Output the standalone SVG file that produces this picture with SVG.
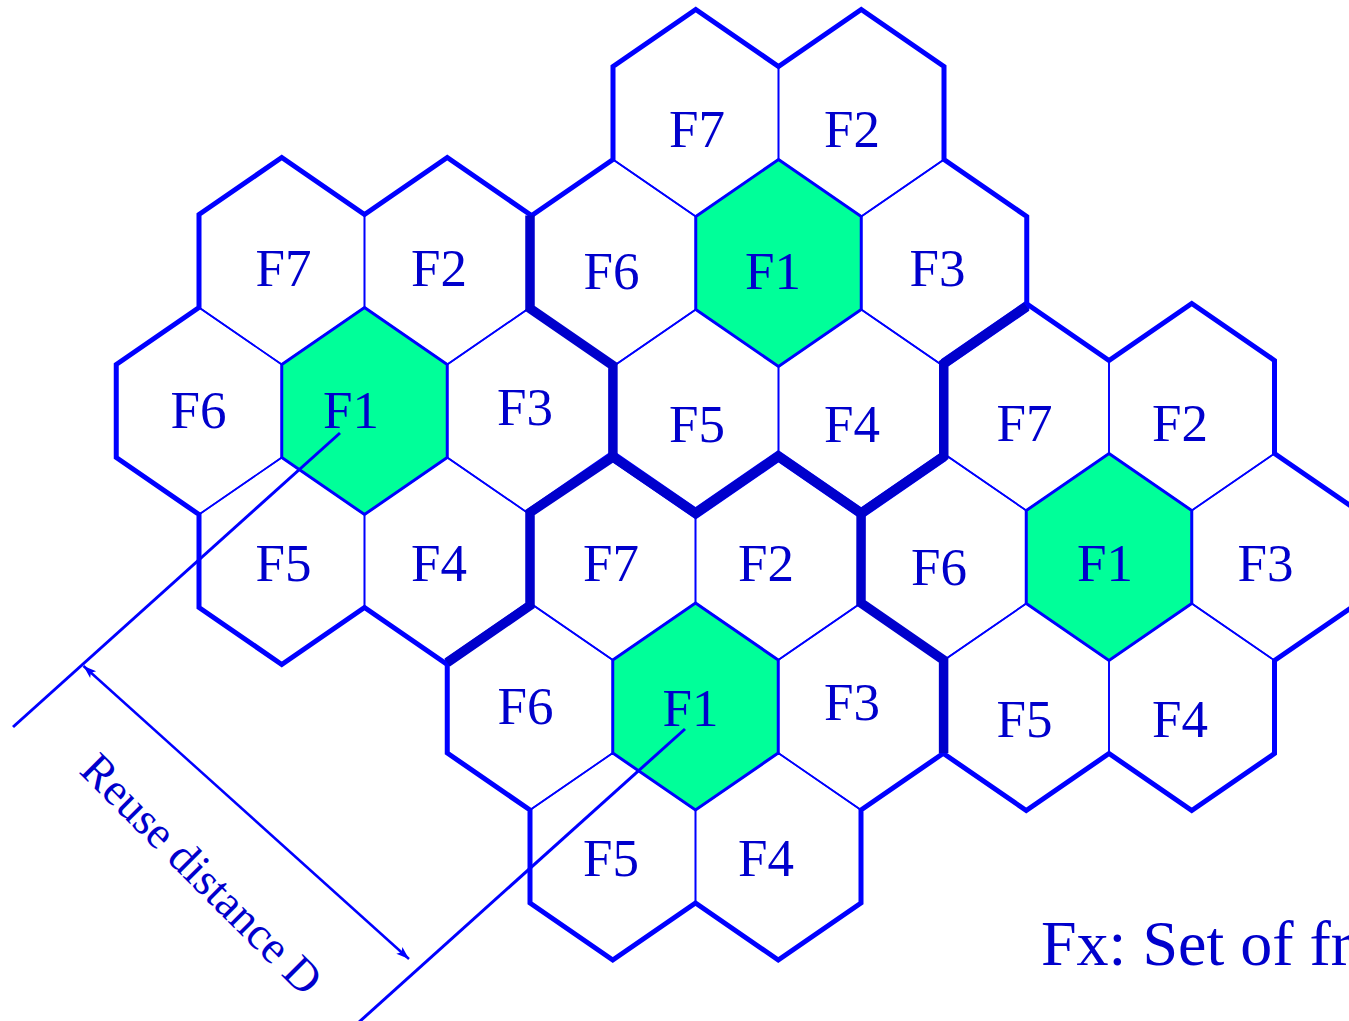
<svg xmlns="http://www.w3.org/2000/svg" xmlns:xlink="http://www.w3.org/1999/xlink" width="1349" height="1021" viewBox="0 0 1349 1021">
<defs>
<style>
.cell{fill:none;stroke:#0000FF;stroke-width:1.6}
.f1{fill:#00FF99;stroke:#0000FF;stroke-width:3}
.outline{fill:none;stroke:#0000FF;stroke-width:5;stroke-linejoin:miter}
.border{fill:none;stroke:#0000CC;stroke-width:9.5;stroke-linejoin:miter}
.lbl{font-family:"Liberation Serif","Times New Roman",serif;font-size:53px;fill:#0000CC;text-anchor:middle}
.conn{fill:none;stroke:#0000FF;stroke-width:3}
.arrow{fill:none;stroke:#0000FF;stroke-width:2.5}
.note{font-family:"Liberation Serif","Times New Roman",serif;fill:#0000CC}
</style>
<polygon id="hex" points="0,-103.5 82.75,-46.5 82.75,46.5 0,103.5 -82.75,46.5 -82.75,-46.5"/>
<polygon id="cl" points="-165.5,-196.5 -82.75,-253.5 0,-196.5 82.75,-253.5 165.5,-196.5 165.5,-103.5 248.25,-46.5 248.25,46.5 165.5,103.5 165.5,196.5 82.75,253.5 0,196.5 -82.75,253.5 -165.5,196.5 -165.5,103.5 -248.25,46.5 -248.25,-46.5 -165.5,-103.5"/>
<marker id="ah" markerUnits="userSpaceOnUse" viewBox="-14 -6 16 12" refX="0" refY="0" markerWidth="16" markerHeight="12" orient="auto-start-reverse">
<path d="M0,0 L-13,-4.5 L-10,0 L-13,4.5 z" fill="#0000FF"/>
</marker>
</defs>
<rect x="0" y="0" width="1349" height="1021" fill="#FFFFFF"/>

<!-- Cluster A -->
<g id="clusterA">
<g id="A-F7"><use href="#hex" x="695.75" y="113" class="cell"/><text class="lbl" x="697" y="147">F7</text></g>
<g id="A-F2"><use href="#hex" x="861.25" y="113" class="cell"/><text class="lbl" x="852" y="147">F2</text></g>
<g id="A-F6"><use href="#hex" x="613" y="263" class="cell"/><text class="lbl" x="611.5" y="289">F6</text></g>
<g id="A-F3"><use href="#hex" x="944" y="263" class="cell"/><text class="lbl" x="937.5" y="286">F3</text></g>
<g id="A-F5"><use href="#hex" x="695.75" y="413" class="cell"/><text class="lbl" x="697" y="442">F5</text></g>
<g id="A-F4"><use href="#hex" x="861.25" y="413" class="cell"/><text class="lbl" x="852" y="442">F4</text></g>
<g id="A-F1"><use href="#hex" x="778.5" y="263" class="f1"/><text class="lbl" x="773" y="289">F1</text></g>
</g>

<!-- Cluster B -->
<g id="clusterB">
<g id="B-F7"><use href="#hex" x="281.75" y="261" class="cell"/><text class="lbl" x="283.5" y="286">F7</text></g>
<g id="B-F2"><use href="#hex" x="447.25" y="261" class="cell"/><text class="lbl" x="439" y="286">F2</text></g>
<g id="B-F6"><use href="#hex" x="199" y="411" class="cell"/><text class="lbl" x="198.5" y="428">F6</text></g>
<g id="B-F3"><use href="#hex" x="530" y="411" class="cell"/><text class="lbl" x="525" y="425">F3</text></g>
<g id="B-F5"><use href="#hex" x="281.75" y="561" class="cell"/><text class="lbl" x="283.5" y="581">F5</text></g>
<g id="B-F4"><use href="#hex" x="447.25" y="561" class="cell"/><text class="lbl" x="439" y="581">F4</text></g>
<g id="B-F1"><use href="#hex" x="364.5" y="411" class="f1"/><text class="lbl" x="351" y="428">F1</text></g>
</g>

<!-- Cluster C -->
<g id="clusterC">
<g id="C-F7"><use href="#hex" x="1026.25" y="407" class="cell"/><text class="lbl" x="1024.5" y="441">F7</text></g>
<g id="C-F2"><use href="#hex" x="1191.75" y="407" class="cell"/><text class="lbl" x="1180" y="441">F2</text></g>
<g id="C-F6"><use href="#hex" x="943.5" y="557" class="cell"/><text class="lbl" x="939" y="585">F6</text></g>
<g id="C-F3"><use href="#hex" x="1274.5" y="557" class="cell"/><text class="lbl" x="1265.5" y="581">F3</text></g>
<g id="C-F5"><use href="#hex" x="1026.25" y="707" class="cell"/><text class="lbl" x="1024.5" y="737">F5</text></g>
<g id="C-F4"><use href="#hex" x="1191.75" y="707" class="cell"/><text class="lbl" x="1180" y="737">F4</text></g>
<g id="C-F1"><use href="#hex" x="1109" y="557" class="f1"/><text class="lbl" x="1105" y="581">F1</text></g>
</g>

<!-- Cluster D -->
<g id="clusterD">
<g id="D-F7"><use href="#hex" x="612.75" y="556.5" class="cell"/><text class="lbl" x="611" y="580.5">F7</text></g>
<g id="D-F2"><use href="#hex" x="778.25" y="556.5" class="cell"/><text class="lbl" x="766" y="580.5">F2</text></g>
<g id="D-F6"><use href="#hex" x="530" y="706.5" class="cell"/><text class="lbl" x="525.5" y="723.5">F6</text></g>
<g id="D-F3"><use href="#hex" x="861" y="706.5" class="cell"/><text class="lbl" x="852" y="720">F3</text></g>
<g id="D-F5"><use href="#hex" x="612.75" y="856.5" class="cell"/><text class="lbl" x="611" y="875.5">F5</text></g>
<g id="D-F4"><use href="#hex" x="778.25" y="856.5" class="cell"/><text class="lbl" x="766" y="875.5">F4</text></g>
<g id="D-F1"><use href="#hex" x="695.5" y="706.5" class="f1"/><text class="lbl" x="690.5" y="726">F1</text></g>
</g>

<!-- Cluster outlines -->
<g id="cluster-outlines">
<use href="#cl" x="778.5" y="263" class="outline"/>
<use href="#cl" x="364.5" y="411" class="outline"/>
<use href="#cl" x="1109" y="557" class="outline"/>
<use href="#cl" x="695.5" y="706.5" class="outline"/>
</g>

<!-- Shared cluster borders -->
<g id="cluster-borders">
<polyline class="border" points="530,215.5 530,308.5 612.9,365.5 612.9,457 695.6,513.25 778.4,456.25 861.1,513.25 943.75,456.5 943.75,363.5 1026.5,306.5"/>
<polyline class="border" points="612.9,457 530,512.5 530,605.5 447.25,662.5"/>
<polyline class="border" points="861.1,513.25 861,603 943.6,660 943.6,753"/>
</g>

<!-- Connectors -->
<g id="connectors">
<line class="conn" x1="340" y1="433" x2="13" y2="727"/>
<line class="conn" x1="685" y1="729" x2="358" y2="1023"/>
<line class="arrow" x1="83.5" y1="666" x2="409" y2="959" marker-start="url(#ah)" marker-end="url(#ah)"/>
</g>

<g id="labels">
<text class="note" font-size="46" transform="translate(78,772) rotate(45)">Reuse distance D</text>
<text class="note" font-size="64" x="1041" y="965">Fx: Set of fr</text>
</g>
</svg>
